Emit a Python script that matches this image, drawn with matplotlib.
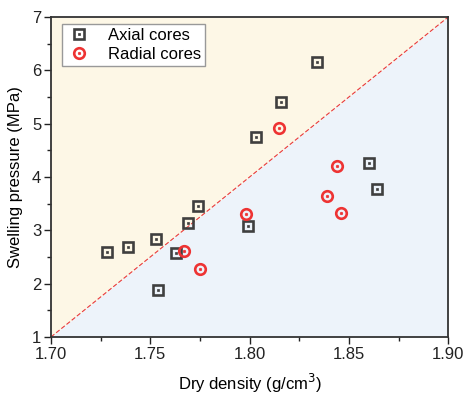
import matplotlib
matplotlib.use("Agg")
import matplotlib.pyplot as plt
import numpy as np
from matplotlib.legend_handler import HandlerTuple
from matplotlib.ticker import MultipleLocator

plt.rcParams['font.family'] = ['Liberation Sans', 'DejaVu Sans']

axial_x = [1.728, 1.739, 1.753, 1.763, 1.769, 1.774, 1.754, 1.799, 1.803, 1.816, 1.834, 1.860, 1.864]
axial_y = [2.60, 2.69, 2.83, 2.57, 3.13, 3.46, 1.89, 3.08, 4.75, 5.41, 6.15, 4.26, 3.78]
radial_x = [1.767, 1.775, 1.798, 1.815, 1.844, 1.839, 1.846]
radial_y = [2.61, 2.28, 3.31, 4.92, 4.21, 3.64, 3.32]

xlim = (1.70, 1.90)
ylim = (1, 7)

fig = plt.figure(figsize=(4.63, 3.96), dpi=100)
ax = fig.add_axes([0.110, 0.149, 0.858, 0.808])

lx = np.array(xlim)
ly = np.array(ylim)
ax.fill_between(lx, ly, ylim[1], color='#fdf7e6', zorder=0, linewidth=0)
ax.fill_between(lx, ylim[0], ly, color='#edf3fa', zorder=0, linewidth=0)
ax.plot(lx, ly, color='#e8393b', lw=0.8, ls=(0, (4, 2)), zorder=1)

gray = '#3f3f3f'
red = '#ee3333'
s1, = ax.plot(axial_x, axial_y, ls='none', marker='s', ms=6.5, mfc='none', mec=gray, mew=1.9, zorder=3)
d1, = ax.plot(axial_x, axial_y, ls='none', marker='s', ms=1.8, mfc=gray, mec=gray, mew=0.5, zorder=3)
s2, = ax.plot(radial_x, radial_y, ls='none', marker='o', ms=7.6, mfc='none', mec=red, mew=1.9, zorder=3)
d2, = ax.plot(radial_x, radial_y, ls='none', marker='o', ms=1.8, mfc=red, mec=red, mew=0.5, zorder=3)

ax.set_xlim(*xlim)
ax.set_ylim(*ylim)
ax.set_xticks(np.arange(1.70, 1.901, 0.05))
ax.set_xticklabels(['1.70', '1.75', '1.80', '1.85', '1.90'])
ax.xaxis.set_minor_locator(MultipleLocator(0.025))
ax.yaxis.set_major_locator(MultipleLocator(1))
ax.yaxis.set_minor_locator(MultipleLocator(0.5))
ax.tick_params(axis='both', which='major', direction='out', length=5, width=1.0, labelsize=12, colors='#222222', pad=2)
ax.tick_params(axis='both', which='minor', direction='out', length=3, width=1.0, colors='#222222')
for sp in ax.spines.values():
    sp.set_linewidth(1.3)
    sp.set_color('#333333')

ax.set_xlabel('Dry density (g/cm$^3$)', fontsize=12, labelpad=7)
ax.set_ylabel('Swelling pressure (MPa)', fontsize=12, labelpad=6)

leg = ax.legend([(s1, d1), (s2, d2)], ['Axial cores', 'Radial cores'],
                handler_map={tuple: HandlerTuple(ndivide=1)},
                loc='upper left', bbox_to_anchor=(0.028, 0.978), borderaxespad=0, fontsize=12,
                frameon=True, fancybox=False, edgecolor='#999999', facecolor='white',
                framealpha=1, handlelength=1.5, handletextpad=1.0, borderpad=0.25,
                labelspacing=0.2, markerscale=1.0)
leg.get_frame().set_linewidth(1.0)

fig.savefig('out.png', dpi=100)
